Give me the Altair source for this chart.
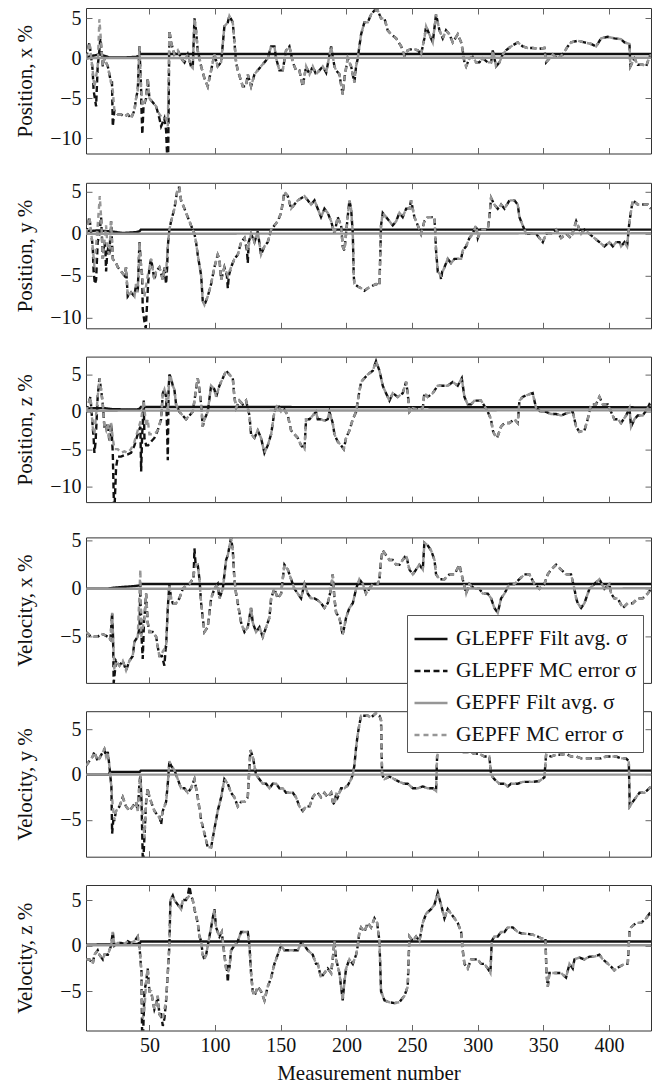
import altair as alt
import pandas as pd

# ---------------- data ----------------
SERIES = ["GLEPFF Filt avg. σ", "GLEPFF MC error σ", "GEPFF Filt avg. σ", "GEPFF MC error σ"]
SERIES_COLORS = ["#111111", "#111111", "#969696", "#969696"]
SERIES_DASHES = [[1, 0], [6, 3.5], [1, 0], [5, 4]]

X_DOMAIN = [1.7, 432]
X_TICKS = [50, 100, 150, 200, 250, 300, 350, 400]

PANEL_TITLES = ["Position, x %", "Position, y %", "Position, z %",
                "Velocity, x %", "Velocity, y %", "Velocity, z %"]
PANEL_Y_DOMAINS = [[-11.9, 6.3], [-11.3, 6.1], [-12.1, 7.4],
                   [-9.8, 5.35], [-9.05, 7.0], [-9.3, 6.65]]
PANEL_Y_TICKS = [[-10, -5, 0, 5], [-10, -5, 0, 5], [-10, -5, 0, 5],
                 [-5, 0, 5], [-5, 0, 5], [-5, 0, 5]]

# ---- Panel 1: Position x
P1_GLEPFF_FILT = [(1.8, 0.1), (6, 0.3), (12, 0.5), (16, 0.3), (20, 0.1), (30, 0.1), (40, 0.2),
                  (42, 0.3), (43, 0.55), (100, 0.55), (250, 0.55), (432, 0.55)]
P1_GEPFF_FILT = [(1.8, -0.1), (5, 0.05), (432, 0.08)]
P1_GEPFF_MC = [(1.8, 0), (4.3, 2), (6.8, -1.5), (8.1, -3.6), (10.6, -1), (11.9, 4.9), (13.2, 2), (14.5, -1),
               (15.7, 0), (17, -0.5), (18.3, -1), (19.5, -2), (20.8, -3), (22.1, -4), (23.3, -6.5), (25.9, -7),
               (28.4, -7), (31, -7.3), (33.5, -7), (36, -7.5), (38.6, -6.5), (39.8, -5), (41.1, -4), (42.4, 1.5),
               (43.7, -4), (44.9, -6), (47.5, -5), (48.7, -2.5), (50, -5), (52.5, -5.5), (55.1, -6), (57.6, -7),
               (60.2, -7.5), (62.7, -7.5), (64, -8.5), (65.2, 3.5), (66.5, 2), (69, 0.5), (71.6, 1), (74.1, 0),
               (76.7, -0.5), (79.2, 0.5), (81.7, -1), (83, -1.2), (84.3, 5), (85.5, 3.5), (86.8, 1), (89.4, -1),
               (91.9, -2.5), (94.4, -3.5), (97, -1.5), (99.5, 0.5), (102, -1), (104.6, -0.5), (107.1, 4),
               (109.7, 4.5), (110.9, 5.3), (113.5, 4.5), (116, -0.5), (117.3, -1.5), (121.1, -3.5), (123.6, -3.5),
               (124.9, -2), (127.4, -3.5), (130, -2), (132.5, -1.5), (135, -1), (137.6, -0.5), (140.1, 0),
               (142.7, 1.5), (145.2, 1.5), (146.5, 0), (149, -1.5), (151.5, -1.5), (154.1, 1), (156.6, 1.5),
               (159.2, -0.5), (161.7, -1.5), (164.2, -1.5), (166.8, -3.5), (169.3, -1), (171.9, -2), (174.4, -1),
               (176.9, -2), (179.5, -1.5), (182, -1), (184.6, -1.8), (188.4, 1.5), (190.9, -1), (192.2, -1.5),
               (194.7, -2), (197.2, -4.5), (198.5, -2.5), (201, 0), (203.6, -1), (206.1, -3), (207.4, -1),
               (208.7, 0), (209.9, 1.5), (211.2, 3), (213.7, 4.5), (216.3, 4.5), (218.8, 5.5), (221.4, 6),
               (223.9, 6), (226.4, 5), (229, 5), (231.5, 3.5), (234.1, 3), (237.9, 2.5), (241.7, 1.5),
               (244.2, 0.3), (246.7, 1), (250.6, 1.2), (254.4, 1), (256.9, 0.5), (259.4, 2.5), (260.7, 4),
               (263.2, 3), (265.8, 2), (268.3, 5.5), (270.9, 3.5), (273.4, 2.5), (275.9, 3.5), (278.5, 3),
               (281, 2), (284.8, 3), (287.4, 2), (288.6, 1), (289.9, -0.5), (291.2, -1), (293.7, 0), (296.2, 0.2),
               (298.8, -0.5), (301.3, -0.5), (303.9, 0), (307.7, -0.5), (310.2, -0.5), (311.5, 1), (314, -1),
               (316.6, -0.5), (319.1, 0.5), (321.6, 1), (325.4, 1.5), (330.5, 2), (334.3, 1.5), (338.1, 1.3),
               (341.9, 1.3), (347, 1.2), (350.8, 1.3), (352.1, -0.5), (354.6, 0), (357.2, 0.5), (361, 0),
               (364.8, 0.5), (368.6, 1.5), (371.1, 2), (376.2, 2.2), (381.3, 2), (386.4, 1.8), (390.2, 1.5),
               (394, 2.5), (399.1, 2.7), (404.1, 2.5), (409.2, 2.4), (411.8, 2), (415.6, 1.8), (416.3, -1),
               (419.4, 0), (421.9, -0.8), (425.7, -0.8), (428.3, -1), (430.8, 0.2), (432, 0.5)]
P1_GLEPFF_MC_DIFF = [[(7.5, -4), (9.4, -6), (10.6, -1)],
                     [(11.9, 1), (12.6, 2.5), (13.6, 1)],
                     [(21.5, -3), (22.1, -8.5), (23.3, -6.5)],
                     [(43.9, -6), (44.6, -9.5), (45.5, -6)],
                     [(57.6, -7.5), (58.9, -8.5), (61.4, -7.5), (62.7, -9), (63.4, -11.9), (64.3, -11.9), (65, 0)]]

# ---- Panel 2: Position y
P2_GLEPFF_FILT = [(1.8, 0.3), (10, 0.4), (20, 0.3), (30, 0.1), (40, 0.2), (42.5, 0.3), (43.5, 0.5), (432, 0.5)]
P2_GEPFF_FILT = [(1.8, 0), (432, 0.06)]
P2_GEPFF_MC = [(1.8, 0), (4.3, 2), (6.8, -1.5), (8.1, -4), (10.6, 1), (12.2, 4.5), (13.2, 2), (14.5, -3),
               (15.7, -1), (17, 1), (18.3, -2), (19.5, -2.5), (20.8, 1.5), (22.1, -3), (24.6, -3.5), (25.9, -4),
               (28.4, -4.5), (31, -5), (32.2, -4), (33.5, -7.5), (36, -7), (38.6, -7.5), (39.8, -6), (41.1, -7),
               (42.4, -1), (43.7, -4), (46.2, -7.5), (48.7, -5), (50, -4), (51.3, -3), (53.8, -5.5), (55.1, -4.5),
               (57.6, -4), (60.2, -5.5), (61.4, -4), (62.7, -4.5), (64, -1.5), (65.2, 0.5), (66.5, 1.5), (69, 3),
               (71.6, 5.5), (72.8, 5.5), (74.1, 4), (76.7, 3), (79.2, 2), (81.7, 1), (84.3, 0), (85.5, -1),
               (86.8, -2.5), (89.4, -5), (90.6, -8), (91.9, -8.5), (94.4, -7.5), (97, -6), (99.5, -4), (102, -2.5),
               (103.3, -3), (104.6, -5.5), (107.1, -4), (109.7, -5), (112.2, -4), (114.7, -3), (117.3, -2.5),
               (119.8, -1), (122.4, -0.5), (124.9, -2), (127.4, 0), (130, -1), (132.5, 0.3), (135, -2.5),
               (137.6, -1.5), (140.1, -1), (142.7, 0.5), (145.2, 1), (147.7, 1.5), (150.3, 2.5), (152.8, 5),
               (155.4, 4.5), (157.9, 3), (160.4, 3.5), (163, 4), (168.1, 4.5), (170.6, 4), (173.1, 3.5),
               (175.7, 4), (178.2, 3), (180.7, 2), (183.3, 3), (185.8, 2.5), (188.4, 1.5), (190.9, 0), (193.4, 2),
               (196, 1), (197.2, -1.5), (198.5, -2), (201, 2), (202.3, 4), (203.6, 3), (204.9, 0), (205.6, -5),
               (206.1, -6), (208.7, -6.3), (211.2, -6.5), (213.7, -6.8), (216.3, -6.5), (220.1, -6.2),
               (222.6, -6), (225.2, -6.2), (226.4, 1), (227.7, 2.5), (230.2, 2), (232.8, 1.5), (235.3, 1),
               (237.9, 1.5), (240.4, 2.5), (242.9, 2), (245.5, 3), (248, 3), (249.3, 4), (251.8, 2), (254.4, 1),
               (256.9, 0), (259.4, 1.5), (262, 2), (264.5, 2), (267.1, 2), (268.3, -2), (269.6, -4.5),
               (272.1, -5), (274.7, -4), (277.2, -3), (279.7, -3.5), (282.3, -3), (284.8, -3), (287.4, -3),
               (288.6, -2), (291.2, -1.5), (293.7, -0.5), (296.2, 0), (298.8, 1), (300.1, -0.5), (302.6, 0.5),
               (305.1, 0.5), (307.7, 0.5), (308.9, 2), (310.2, 4.3), (312.7, 3.5), (315.3, 3), (317.8, 3.5),
               (320.4, 3), (324.2, 4), (328, 4), (330.5, 3.5), (331.8, 2), (334.3, 1), (336.9, 0), (340.7, 0),
               (344.5, 0), (347, -0.5), (349.6, -1), (352.1, 0), (355.9, 0), (359.7, 0.5), (363.5, -0.5),
               (367.3, 0), (371.1, -0.5), (375, 1.5), (378.8, 0), (381.3, 0.5), (385.1, 0), (388.9, -0.5),
               (392.7, -1), (396.5, -1.5), (400.3, -1), (402.9, -1.5), (405.4, -1), (408, -1), (409.2, -1.5),
               (411.8, -1), (413.8, -1.5), (415.6, 1.5), (418.1, 4), (421.9, 3.5), (425.7, 3.5), (429.5, 3.5),
               (432, 3)]
P2_GLEPFF_MC_DIFF = [[(7.5, -4.5), (8.5, -6), (9.4, -5.5), (10.6, -1)],
                     [(12, 0), (13.2, 2), (14, -1)],
                     [(16.5, -2), (17, -4.5), (17.8, -2.5)],
                     [(44.5, -5), (44.9, -9), (46.2, -10.5), (47.2, -11.3), (48, -9), (49, -6)],
                     [(62, -5), (62.7, -6), (63.5, -4)],
                     [(109, -5), (109.7, -6.5), (110.5, -5)],
                     [(124.3, -2), (124.9, -3.5), (125.6, -1)],
                     [(271.5, -4.5), (272.1, -5.5), (273, -4.5)]]

# ---- Panel 3: Position z
P3_GLEPFF_FILT = [(1.8, 0.45), (15, 0.5), (22, 0.35), (40, 0.3), (42.5, 0.4), (43.5, 0.65), (432, 0.6)]
P3_GEPFF_FILT = [(1.8, 0.15), (432, 0.2)]
P3_GEPFF_MC = [(1.8, 0), (5.1, 2), (6.8, -2), (8.1, -3), (10.6, 2), (11.9, 4.5), (13.2, 3), (14.5, 1),
               (15.7, -2), (17, -2.5), (18.3, -1.5), (19.5, -4), (20.8, -1.5), (22.1, -3.5), (23.3, -5),
               (25.9, -5), (28.4, -5.5), (31, -5.3), (33.5, -5.5), (36, -5), (38.6, -4), (41.1, -2.5),
               (43.7, -1), (45.7, 1.5), (47.5, -2), (48.7, -1), (50, -3), (53.8, -3), (56.3, -2.5), (58.9, -1),
               (60.2, 2.5), (61.4, 3), (62.7, 2), (64, 0), (65.2, 5), (66.5, 4.5), (67.8, 3.5), (69, 3),
               (70.3, 1), (72.8, 0), (75.4, -0.5), (77.9, -1), (80.5, -0.5), (83, 0), (84.3, 1.5), (85.5, 3),
               (86.8, 4.5), (88.1, 3), (89.4, 1), (90.6, -2), (91.9, -1), (93.2, -0.5), (94.4, 0), (97, 3.5),
               (99.5, 3), (100.8, 2), (103.3, 3.5), (105.9, 4.5), (108.4, 5.5), (110.9, 5), (113.5, 4.5),
               (114.7, 2), (116, 0.5), (118.5, 1.5), (121.1, 1), (123.6, 1.5), (126.2, -0.5), (127.4, -3),
               (130, -3.5), (132.5, -2.5), (135, -3.5), (137.6, -5.5), (140.1, -4.5), (142.7, -3), (145.2, 0),
               (147.7, 1), (150.3, 0), (152.8, 0.3), (155.4, -0.5), (157.9, -2.5), (160.4, -3), (163, -3.5),
               (165.5, -4.5), (168.1, -5), (169.3, -1), (171.9, -1), (174.4, -0.5), (176.9, 0), (178.2, -1),
               (180.7, -1), (183.3, -1.2), (185.8, -1), (187.1, 0), (189.6, -1.5), (190.9, -3), (193.4, -4),
               (196, -4.5), (198, -5), (199.8, -3.5), (202.3, -2.5), (204.9, -1), (207.4, 0), (208.7, 1.5),
               (211.2, 4), (213.7, 4.5), (216.3, 5), (220.1, 5.5), (222.6, 6.8), (225.2, 5.5), (227.7, 3.5),
               (230.2, 2.5), (232.8, 1.5), (235.3, 2.5), (239.1, 2), (242.9, 2.5), (245.5, 4), (246.7, 2.5),
               (248, 0), (250.6, 0.5), (254.4, 0.3), (258.2, 0.5), (259.4, 2.5), (262, 2), (265.8, 2.5),
               (269.6, 3.5), (273.4, 3.5), (277.2, 3.5), (281, 4), (284.8, 3.5), (287.9, 4.5), (289.9, 2),
               (292.4, 1), (295, 1), (297.5, 1.5), (300.1, 1.5), (302.6, 1.5), (305.1, 0.8), (307.7, 0),
               (308.9, -0.5), (310.2, -1), (311.5, -2.5), (312.7, -3), (314.8, -3.5), (317.8, -2), (320.4, -1.5),
               (324.2, -1.5), (328, -1), (330.5, -1.5), (331.8, 1.5), (334.3, 2), (336.9, 2.2), (341.9, 2.5),
               (343.2, 1.5), (344.5, 0.5), (348.3, 0), (352.1, 0), (355.9, -0.3), (359.7, -0.3), (363.5, -0.5),
               (367.3, -0.2), (372.4, 0), (373.7, -1), (375, -2), (377.5, -2.7), (381.3, -2.5), (383.8, -1),
               (386.4, 1), (390.2, 1), (392.7, 2), (395.3, 1), (399.1, 1), (401.6, 0), (404.1, -1), (406.7, -1),
               (409.2, -1.5), (413, -0.5), (415.6, 0.5), (416.8, -2), (419.4, -1), (421.9, -0.5), (425.7, -0.5),
               (429.5, 0.5), (430.8, 1), (432, 0.8)]
P3_GLEPFF_MC_DIFF = [[(7.5, -3.5), (8.1, -5.5), (9, -4)],
                     [(21.5, -3.5), (22.1, -5.5), (22.9, -12.1), (23.6, -12.1), (24.6, -7.5), (25.9, -6),
                      (28.4, -6), (31, -5.8), (33.5, -5.7), (36, -5.5), (38.6, -4.5), (41.1, -3)],
                     [(43.1, -2), (43.7, -8), (44.4, -3.5)],
                     [(46.2, -3.5), (47.5, -4.5), (49, -4.5), (51.3, -4), (53.8, -3.5)],
                     [(63.4, -2), (64, -6.5), (64.6, 3)]]

# ---- Panel 4: Velocity x
P4_GLEPFF_FILT = [(1.8, 0), (18, 0), (22, 0.1), (40, 0.3), (42.5, 0.35), (43.5, 0.5), (432, 0.5)]
P4_GEPFF_FILT = [(1.8, 0), (432, 0.05)]
P4_GEPFF_MC = [(1.8, -4.5), (5.6, -5), (10.6, -5), (13.2, -4.7), (15.7, -4.8), (18.3, -5), (20.3, -5.3),
               (21.6, -2.5), (23.3, -8.5), (24.6, -7.5), (27.2, -8), (29.7, -7.5), (32.2, -8.5), (34.8, -7.5),
               (37.3, -7), (38.6, -5.5), (41.1, -5), (43.1, 2), (43.7, -5), (46.2, -3), (47.5, -0.5),
               (48.7, -3.5), (50, -4.5), (52.5, -4.5), (55.1, -5), (56.3, -6), (57.6, -7), (58.9, -7),
               (60.2, -6.5), (62.7, -6), (64, -2), (65.2, 0.5), (66.5, -1), (67.8, -1.5), (70.3, -1.5),
               (72.8, -1), (75.4, 0), (77.9, 0.3), (80.5, 0.5), (83, 1), (85.5, 2.5), (86.8, 2.5), (88.1, 1),
               (89.4, -1.5), (90.6, -3), (91.9, -4.5), (94.4, -4), (97, -1), (99.5, 0), (102, 0.5), (103.3, -1),
               (105.9, 0), (108.4, 3), (109.7, 3.5), (112.2, 5.3), (113.5, 4), (114.7, 1), (116, -0.5),
               (117.3, -1.5), (119.8, -3.5), (122.4, -4.5), (124.9, -4), (127.4, -2), (128.7, -3.5),
               (131.2, -4.5), (133.8, -4), (136.3, -5), (138.9, -4), (141.4, -3), (142.7, -1), (145.2, 0),
               (147.7, -1), (150.3, -0.5), (152.8, 2.5), (155.4, 2), (157.9, 1), (160.4, 0), (163, -0.5),
               (165.5, -1), (168.1, 0.5), (170.6, -0.5), (173.1, -1), (175.7, -1), (178.2, -1.2), (180.7, -1.5),
               (183.3, -2), (185.8, -1.5), (188.4, 0), (189.6, 1.5), (190.9, -1), (192.2, -2.5), (194.7, -3),
               (197.2, -4.8), (199.8, -3), (202.3, -2), (204.9, -1.5), (207.4, 0), (209.9, 1), (212.5, 0.5),
               (215, -0.5), (217.5, 0), (220.1, 0.5), (223.9, 0.5), (225.2, 1), (226.4, 3), (227.7, 4),
               (230.2, 3.5), (232.8, 3), (235.3, 3), (237.9, 2.5), (240.4, 2.5), (242.9, 3), (245.5, 3.5),
               (248, 2), (250.6, 1.5), (253.1, 2), (255.6, 2.5), (258.2, 2), (259.4, 4.8), (262, 4.5),
               (264.5, 4), (267.1, 3), (268.3, 1.5), (270.9, 1), (274.7, 1), (278.5, 1.5), (282.3, 1.5),
               (286.1, 2.5), (288.6, 1), (291.2, -0.5), (293.7, 0.5), (297.5, 0), (301.3, 0), (303.9, -0.5),
               (307.7, -0.5), (310.2, -1), (312.7, -2), (315.3, -2.5), (317.8, -1), (320.4, -0.5), (324.2, 0.5),
               (328, 0.5), (331.8, 1), (335.6, 1.5), (339.4, 1.5), (343.2, 0.5), (347, 0), (350.8, 0.5),
               (353.4, 1.5), (355.9, 2), (359.7, 2.5), (363.5, 2), (367.3, 1.5), (371.1, 1.5), (373.7, 0),
               (375, -1), (376.2, -1.5), (378.8, -2), (381.3, -1.5), (385.1, 0), (388.9, 0.5), (392.7, 1),
               (396.5, 0), (400.3, 0.5), (401.6, -0.5), (404.1, -1), (406.7, -1), (410.5, -2), (414.3, -1.5),
               (418.1, -1.5), (421.9, -1), (425.7, -1), (429.5, -0.5), (432, 0)]
P4_GLEPFF_MC_DIFF = [[(22.3, -5), (22.8, -9.8), (23.8, -8.5)],
                     [(42.5, -4), (43.1, 0.5), (44, -5), (44.9, -7.3), (46, -3)],
                     [(59.5, -7), (61.4, -8), (62.5, -6)],
                     [(83.6, 1), (84.3, 4.2), (85.2, 2.5)]]

# ---- Panel 5: Velocity y
P5_GLEPFF_FILT = [(1.8, 0), (19, 0), (20, 0.3), (42.5, 0.3), (43.5, 0.45), (432, 0.45)]
P5_GEPFF_FILT = [(1.8, 0), (432, 0)]
P5_GEPFF_MC = [(1.8, 1), (4.3, 1.5), (6.8, 2), (8.1, 2.5), (10.6, 1.5), (11.9, 1.8), (14.5, 2.5), (15.7, 2.8),
               (17, 2), (18.3, 2.5), (19.5, 1), (20.8, -1), (22.1, -3.5), (23.3, -5), (24.6, -4), (27.2, -3.5),
               (29.7, -2.5), (32.2, -3.5), (34.8, -4), (37.3, -3.5), (39.8, -3), (41.1, -4), (42.4, -1),
               (43.1, 0), (44.6, -4), (46.2, -7), (47.5, -3), (48.7, -1.5), (50, -2.5), (51.3, -3), (53.8, -4),
               (56.3, -4.5), (58.9, -5), (60.2, -4), (62.7, -3), (64, -1), (65.2, 1.5), (66.5, 1), (69, 0.5),
               (71.6, -0.5), (74.1, -1.5), (76.7, -1.5), (79.2, -2), (81.7, -1.5), (84.3, -0.5), (86.8, -2.5),
               (89.4, -5), (91.9, -6.5), (94.4, -8), (97, -8), (99.5, -6), (102, -4), (104.6, -2.5),
               (107.1, -0.5), (109.7, -1), (112.2, -2), (114.7, -2.5), (117.3, -3.5), (119.8, -3), (122.4, -3),
               (124.9, -2.5), (126.9, 2.7), (128.7, 2), (131.2, 0), (133.8, -0.5), (136.3, -1), (138.9, -1),
               (141.4, -1.5), (143.9, -1), (146.5, -1), (149, -1.5), (151.5, -1.5), (154.1, -2), (156.6, -2),
               (159.2, -2), (161.7, -2.5), (164.2, -3.5), (166.8, -4), (169.3, -3.5), (171.9, -3.5),
               (174.4, -2.5), (176.9, -2), (178.2, -2), (180.7, -2.5), (183.3, -2), (185.8, -2.5), (188.4, -2),
               (189.6, -3), (190.9, -3.3), (192.2, -2), (193.4, -2.5), (196, -1.5), (198.5, -1.5), (201, -1.2),
               (203.6, -0.5), (204.9, 0), (206.1, 1), (207.4, 3), (208.7, 4.5), (209.9, 5.5), (211.2, 6.5),
               (213.7, 6.5), (216.3, 6.5), (218.8, 6.3), (222.6, 6.8), (225.2, 6.5), (226.4, 6), (227.2, 0),
               (229, -0.5), (232.8, -0.2), (236.6, -0.5), (240.4, -0.8), (244.2, -1), (246.7, -1), (250.6, -1.5),
               (254.4, -1.5), (258.2, -1.3), (262, -1.5), (265.8, -1.5), (268.3, -1.8), (269.1, 2), (270.9, 3),
               (273.4, 3.5), (277.2, 4), (279.7, 3.5), (282.3, 3), (286.1, 2.5), (289.9, 2.5), (293.7, 2.5),
               (297.5, 2.3), (301.3, 2.3), (305.1, 2), (308.9, 2), (310.2, 0), (312.7, -0.5), (316.6, -1),
               (320.4, -1), (322.9, -1.3), (325.4, -1), (330.5, -1), (334.3, -0.8), (338.1, -0.8), (341.9, -0.8),
               (347, -0.7), (350.8, -0.3), (352.1, 2.2), (355.9, 2), (359.7, 2.2), (363.5, 2.2), (367.3, 2.3),
               (371.1, 2), (375, 2), (378.8, 1.8), (382.6, 1.8), (386.4, 1.8), (390.2, 1.8), (394, 1.8),
               (397.8, 2), (401.6, 2), (405.4, 2), (409.2, 1.8), (413, 1.8), (415.1, 1.5), (415.8, -3.5),
               (418.1, -3), (420.6, -2.5), (423.2, -2), (427, -2), (430.8, -1.5), (432, -1.3)]
P5_GLEPFF_MC_DIFF = [[(21, -1), (21.6, -6.5), (22.5, -5)],
                     [(44, -3), (44.9, -9.05), (45.5, -9.05), (46.5, -6), (47.5, -3)],
                     [(57.5, -4.5), (58.9, -5.5), (60.2, -4)]]

# ---- Panel 6: Velocity z
P6_GLEPFF_FILT = [(1.8, 0.1), (42.5, 0.2), (43.5, 0.45), (432, 0.45)]
P6_GEPFF_FILT = [(1.8, 0.05), (432, 0.05)]
P6_GEPFF_MC = [(1.8, -1.5), (4.3, -1.5), (6.8, -2), (8.1, -1), (10.6, -0.5), (11.9, -1), (14.5, -1.5),
               (15.7, -1), (18.3, -1), (20.8, 0), (22.1, 1.5), (23.3, 0), (25.9, 0.3), (28.4, 0.3), (31, 0.2),
               (33.5, 0.5), (36, 0.3), (38.6, 0.5), (41.1, 1), (42.4, 0), (43.7, -2.5), (44.9, -8), (46.2, -7),
               (47.5, -4), (48.7, -2.5), (50, -5), (51.3, -5), (52.5, -6), (53.8, -7), (55.1, -6.5), (56.3, -5.5),
               (57.6, -7.5), (58.9, -8), (60.2, -8), (61.4, -7), (62.7, -6), (64, -3), (65.2, 0), (66, 5),
               (67.8, 5.5), (69, 5), (71.6, 4.5), (74.1, 4), (75.4, 5), (77.9, 5), (80.5, 5.5), (83, 5),
               (84.3, 4), (86.8, 2.5), (88.1, 1), (89.4, 0.5), (90.6, -1), (91.9, -1.5), (93.2, -1), (95.7, 1),
               (97, 2), (98.2, 3), (99.5, 4), (100.8, 2), (103.3, 1), (105.1, 1.5), (107.1, -1), (108.4, -2.5),
               (109.7, -3), (110.9, -2.5), (112.2, -0.5), (114.7, 0), (117.3, 0.5), (119.8, 1.5), (122.4, 1.5),
               (124.9, 1.5), (126.2, 0), (127.4, -3), (128.7, -5), (130, -5.5), (132.5, -4.5), (135, -5),
               (137.6, -6), (140.1, -4.5), (142.7, -3.5), (145.2, -2), (147.7, -1), (150.3, 0), (152.8, -0.5),
               (155.4, -0.5), (157.9, -0.5), (160.4, -0.5), (163, -0.5), (165.5, 0.3), (168.1, 0), (170.6, -0.5),
               (174.4, -1), (176.9, -2), (178.2, -2), (180.7, -3.5), (183.3, -3), (185.8, -2.5), (188.4, -3),
               (189.6, -1.5), (190.9, 0.5), (192.2, -1.5), (194.7, -3), (197.2, -6), (198.5, -4), (199.8, -2.5),
               (202.3, -1.5), (204.9, -2), (207.4, -1), (208.7, 0), (209.9, 1.5), (211.2, 2), (213.7, 1.5),
               (216.3, 2.5), (218.8, 2), (221.4, 3), (223.4, 2.5), (225.2, 0.5), (226.4, -5), (229, -6),
               (232.8, -6.2), (236.6, -6.3), (240.4, -6.2), (244.2, -5.5), (246.7, -4.5), (248, 1), (250.6, 0.5),
               (253.1, 1), (255.6, 0.5), (258.2, 2.5), (260.7, 3.5), (264.5, 4), (267.1, 4.5), (269.6, 5.8),
               (272.1, 4.5), (274.7, 3), (277.2, 4), (279.7, 3.5), (282.3, 3), (284.8, 2.5), (287.4, 1.5),
               (288.6, -0.5), (289.9, -2), (292.4, -2.5), (295, -1.5), (297.5, -1.5), (300.1, -1.5),
               (302.6, -2), (305.1, -2), (307.7, -2.5), (309.7, -3), (310.7, 0.5), (312.7, 1), (315.3, 1),
               (317.8, 1.5), (320.4, 1.5), (322.9, 2), (326.7, 2), (330.5, 1.5), (334.3, 1.3), (338.1, 1.3),
               (341.9, 1.2), (345.8, 1), (348.3, 0.8), (351.6, 0.8), (352.4, -3), (353.4, -4.5), (354.6, -3),
               (357.2, -3), (359.7, -3), (363.5, -3), (367.3, -3.5), (369.9, -2), (372.4, -2.5), (373.7, -1.5),
               (377.5, -1.3), (381.3, -1.5), (385.1, -1.2), (388.9, -1.2), (392.7, -1), (395.3, -1.5),
               (397.8, -1.8), (401.6, -2.3), (404.1, -2.7), (408, -2.3), (411.8, -2), (414.3, -2), (415.6, 1.5),
               (416.8, 2), (420.6, 2.5), (424.5, 2.5), (428.3, 3), (430.8, 3.5), (432, 3.3)]
P6_GLEPFF_MC_DIFF = [[(43.9, -2.5), (44.4, -9.3), (45.3, -9.3), (46.2, -5)],
                     [(58.9, -7.5), (60.2, -8.8), (61.4, -8)],
                     [(79.2, 5.5), (80.5, 6.5), (81.7, 5.5)],
                     [(108.8, -2), (109.7, -4), (110.6, -2)]]

PANELS = [
    (P1_GLEPFF_FILT, P1_GEPFF_MC, P1_GLEPFF_MC_DIFF, P1_GEPFF_FILT),
    (P2_GLEPFF_FILT, P2_GEPFF_MC, P2_GLEPFF_MC_DIFF, P2_GEPFF_FILT),
    (P3_GLEPFF_FILT, P3_GEPFF_MC, P3_GLEPFF_MC_DIFF, P3_GEPFF_FILT),
    (P4_GLEPFF_FILT, P4_GEPFF_MC, P4_GLEPFF_MC_DIFF, P4_GEPFF_FILT),
    (P5_GLEPFF_FILT, P5_GEPFF_MC, P5_GLEPFF_MC_DIFF, P5_GEPFF_FILT),
    (P6_GLEPFF_FILT, P6_GEPFF_MC, P6_GLEPFF_MC_DIFF, P6_GEPFF_FILT),
]


def glepff_mc(shared, diffs):
    """GLEPFF MC curve: follows the GEPFF MC readings except where it visibly departs."""
    pts = list(shared)
    for seg in diffs:
        lo = min(p[0] for p in seg)
        hi = max(p[0] for p in seg)
        pts = [p for p in pts if not (lo <= p[0] <= hi)] + list(seg)
    return sorted(pts)


# ---------------- chart ----------------
FONT = "Liberation Serif"
PLOT_W = 565
PLOT_H = 145.5

LEGEND = alt.Legend(orient="none", legendX=321, legendY=607, title=None, symbolType="stroke",
                    symbolSize=1089, symbolStrokeWidth=2.4, labelFont=FONT, labelFontSize=21.5,
                    labelColor="#111111", labelLimit=400, labelOffset=7, fillColor="white",
                    strokeColor="#555555", padding=6, rowPadding=3, direction="vertical",
                    labelExpr="datum.label + '  '")


def make_panel(i, bottom):
    filt_gl, mc_ge, diffs, filt_ge = PANELS[i]
    mc_gl = glepff_mc(mc_ge, diffs)
    rows = []
    for name, pts in zip(SERIES, [filt_gl, mc_gl, filt_ge, mc_ge]):
        for x, y in pts:
            rows.append({"x": x, "y": y, "series": name})
    df = pd.DataFrame(rows)

    xs = alt.Scale(domain=X_DOMAIN, nice=False, zero=False)
    ys = alt.Scale(domain=PANEL_Y_DOMAINS[i], nice=False, zero=False)
    color = alt.Color("series:N", scale=alt.Scale(domain=SERIES, range=SERIES_COLORS), legend=LEGEND)
    dash = alt.StrokeDash("series:N", scale=alt.Scale(domain=SERIES, range=SERIES_DASHES), legend=LEGEND)

    if bottom:
        x_main = alt.Axis(orient="bottom", offset=-6, tickSize=6, values=X_TICKS, labels=True,
                          labelPadding=5, title="Measurement number", titlePadding=7)
    else:
        x_main = alt.Axis(orient="bottom", offset=-6, tickSize=6, values=X_TICKS, labels=False, title=None)
    y_main = alt.Axis(orient="left", offset=-6, tickSize=6, values=PANEL_Y_TICKS[i], labelPadding=5,
                      title=PANEL_TITLES[i], titlePadding=13, minExtent=44, maxExtent=44)
    x_top = alt.Axis(orient="top", offset=-6, tickSize=6, values=X_TICKS, labels=False, title=None)
    y_right = alt.Axis(orient="right", offset=-6, tickSize=6, values=PANEL_Y_TICKS[i], labels=False,
                       title=None)
    axes = [(x_main, y_main), (x_top, y_right), (None, None), (None, None)]

    layers = []
    for k, s in enumerate(SERIES):
        xa, ya = axes[k]
        layers.append(
            alt.Chart(df)
            .transform_filter(alt.datum.series == s)
            .mark_line(clip=True, strokeWidth=2.4, strokeCap="butt")
            .encode(x=alt.X("x:Q", scale=xs, axis=xa),
                    y=alt.Y("y:Q", scale=ys, axis=ya),
                    color=color, strokeDash=dash)
        )
    return (alt.layer(*layers)
            .resolve_axis(x="independent", y="independent")
            .properties(width=PLOT_W, height=PLOT_H))


panels = [make_panel(i, i == 5) for i in range(6)]

chart = (
    alt.vconcat(*panels, spacing=25.8)
    .resolve_scale(color="shared", strokeDash="shared")
    .properties(padding={"left": 13, "top": 7, "right": 5, "bottom": 0}, background="white")
    .configure_view(stroke="#333333", strokeWidth=1)
    .configure_axis(labelFont=FONT, titleFont=FONT, labelFontSize=20, titleFontSize=21,
                    titleFontWeight="normal", labelColor="#111111", titleColor="#111111",
                    tickColor="#666666", tickWidth=1, grid=False, domain=False)
)

chart.save("out.html", embed_options={"renderer": "svg", "actions": False})
